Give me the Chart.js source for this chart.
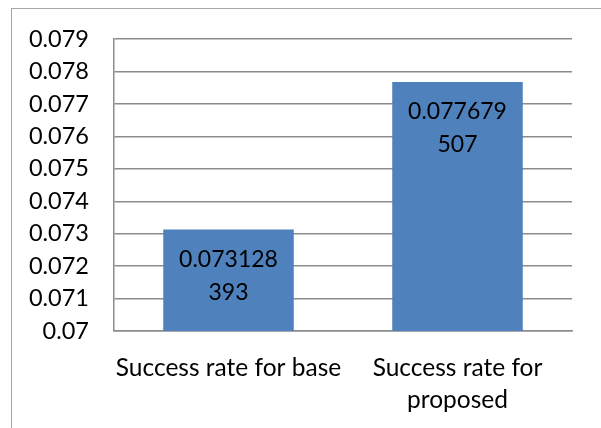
<!DOCTYPE html>
<html>
<head>
<meta charset="utf-8">
<script src="https://cdn.jsdelivr.net/npm/chart.js@4.4.1/dist/chart.umd.min.js"></script>
<style>
  html, body { margin: 0; padding: 0; background: #ffffff; }
  body { width: 601px; height: 428px; position: relative; overflow: hidden; }
  #frame { position: absolute; left: 11px; top: 8px; width: 640px; height: 460px; border: 1.5px solid #a6a6a6; box-sizing: border-box; }
  #wrap { position: absolute; left: 0; top: 0; width: 601px; height: 428px; }
</style>
</head>
<body>
<div id="frame"></div>
<div id="wrap"><canvas id="c" width="601" height="428"></canvas></div>
<script>
const categories = [["Success rate for base"], ["Success rate for", "proposed"]];
const successRates = [0.073128393, 0.077679507];
const yMin = 0.07;
const yMax = 0.079;
const yStep = 0.001;

const FONT = "Lato, 'Open Sans', sans-serif";
const barColor = "#4F81BD";
const gridColor = "#8c8c8c";

const valueLabelPlugin = {
  id: "valueLabels",
  afterDatasetsDraw(chart) {
    const ctx = chart.ctx;
    const meta = chart.getDatasetMeta(0);
    ctx.save();
    ctx.font = "23px " + FONT;
    ctx.fillStyle = "#000000";
    ctx.textAlign = "center";
    ctx.textBaseline = "middle";
    meta.data.forEach((bar, i) => {
      const s = String(chart.data.datasets[0].data[i]);
      const lines = [s.slice(0, 8), s.slice(8)];
      lines.forEach((ln, k) => {
        ctx.fillText(ln, bar.x, bar.y + 30 + k * 33);
      });
    });
    ctx.restore();
  }
};

new Chart(document.getElementById("c"), {
  type: "bar",
  data: {
    labels: categories,
    datasets: [{
      data: successRates,
      backgroundColor: barColor,
      borderWidth: 0,
      categoryPercentage: 1.0,
      barPercentage: 0.57
    }]
  },
  options: {
    responsive: false,
    animation: false,
    devicePixelRatio: 1,
    layout: { padding: { left: 0, right: 29, top: 37, bottom: 0 } },
    plugins: { legend: { display: false }, tooltip: { enabled: false } },
    scales: {
      x: {
        grid: { display: false, drawTicks: false },
        border: { display: true, color: gridColor, width: 1.5 },
        ticks: { color: "#000", font: { family: FONT, size: 24.5, lineHeight: 1.3 }, padding: 21, maxRotation: 0, autoSkip: false },
        afterFit(scale) { scale.height = 97; }
      },
      y: {
        min: yMin,
        max: yMax,
        grid: { color: gridColor, lineWidth: 1.5, drawTicks: false },
        border: { display: true, color: gridColor, width: 1.5 },
        ticks: {
          stepSize: yStep,
          color: "#000",
          padding: 25,
          font: { family: FONT, size: 23.5 },
          callback: (v) => String(parseFloat(v.toFixed(3)))
        },
        afterFit(scale) { scale.width = 114; }
      }
    }
  },
  plugins: [valueLabelPlugin]
});
</script>
</body>
</html>
